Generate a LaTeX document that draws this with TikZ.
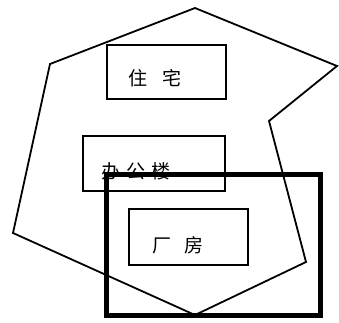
\documentclass[tikz,border=0pt]{standalone}
\usepackage{fontspec}
\newfontfamily\cjk{Noto Sans CJK SC}
\begin{document}
\begin{tikzpicture}[x=1pt,y=-1pt,
  zone/.style={draw=black,line width=1.8pt,line join=miter},
  bldg/.style={draw=black,line width=1.5pt},
  lbl/.style={font=\cjk\fontsize{19}{19}\selectfont,inner sep=0pt},
  frame/.style={draw=black,line width=5pt}]
\useasboundingbox (0,0) rectangle (339,322);
\coordinate (p1) at (195,8);
\coordinate (p2) at (337,66);
\coordinate (p3) at (269,121);
\coordinate (p4) at (306,262);
\coordinate (p5) at (195,315);
\coordinate (p6) at (13,233);
\coordinate (p7) at (50,64);
\draw[zone] (p1) -- (p2) -- (p3) -- (p4) -- (p5) -- (p6) -- (p7) -- cycle;
\draw[bldg,fill=white] (107,45) rectangle (226,99);
\node[lbl] (zz) at (155,78) {住\hspace{0.8em}宅};
\draw[bldg,fill=white] (83,136) rectangle (225,191);
\node[lbl] (bg) at (136,171) {办\hspace{0.3em}公\hspace{0.3em}楼};
\draw[bldg] (129,209) rectangle (248,265);
\node[lbl] (cf) at (178,245) {厂\hspace{0.7em}房};
\draw[frame] (106,174) rectangle (320,315);
\end{tikzpicture}
\end{document}
